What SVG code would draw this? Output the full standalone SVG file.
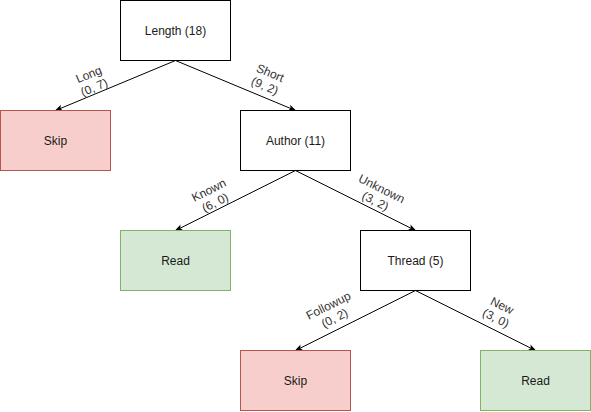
<svg xmlns="http://www.w3.org/2000/svg" width="591" height="412" viewBox="0 0 591 412">
<defs>
<style>
.n{stroke:#000;stroke-width:1;fill:#fff}
.red{fill:#f8cecc;stroke:#b85450}
.green{fill:#d5e8d4;stroke:#82b366}
.t{font-family:"Liberation Sans",Arial,sans-serif;font-size:12px;fill:#1a1a1a;text-anchor:middle}
.lb{font-family:"Liberation Sans",Arial,sans-serif;font-size:12px;fill:#333;text-anchor:middle}
.e{stroke:#000;stroke-width:1;fill:none;marker-end:url(#arr)}
</style>
<marker id="arr" viewBox="0 0 10 10" refX="9" refY="5" markerWidth="8" markerHeight="8" orient="auto" markerUnits="userSpaceOnUse">
<path d="M0,1 L10,5 L0,9 L2.5,5 z" fill="#000"/>
</marker>
</defs>
<rect width="591" height="412" fill="#fff"/>
<g id="connectors">
<line class="e" x1="175.5" y1="60.5" x2="55.5" y2="110.5"/>
<line class="e" x1="175.5" y1="60.5" x2="295.5" y2="110.5"/>
<line class="e" x1="295.5" y1="170.5" x2="175.5" y2="230.5"/>
<line class="e" x1="295.5" y1="170.5" x2="415.5" y2="230.5"/>
<line class="e" x1="415.5" y1="290.5" x2="295.5" y2="350.5"/>
<line class="e" x1="415.5" y1="290.5" x2="535.5" y2="350.5"/>
<g transform="translate(91.5,81) rotate(-22.6)"><text class="lb" y="-3">Long</text><text class="lb" y="11">(0, 7)</text></g>
<g transform="translate(267.5,79.5) rotate(22.6)"><text class="lb" y="-3">Short</text><text class="lb" y="11">(9, 2)</text></g>
<g transform="translate(212,196.5) rotate(-26.57)"><text class="lb" y="-3">Known</text><text class="lb" y="11">(6, 0)</text></g>
<g transform="translate(378.5,195) rotate(26.57)"><text class="lb" y="-3">Unknown</text><text class="lb" y="11">(3, 2)</text></g>
<g transform="translate(331.5,312) rotate(-26.57)"><text class="lb" y="-3">Followup</text><text class="lb" y="11">(0, 2)</text></g>
<g transform="translate(499,312) rotate(26.57)"><text class="lb" y="-3">New</text><text class="lb" y="11">(3, 0)</text></g>
</g>
<g id="length"><rect class="n" x="120.5" y="0.5" width="110" height="60"/><text class="t" x="175.5" y="35">Length (18)</text></g>
<g id="skip1"><rect class="n red" x="0.5" y="110.5" width="110" height="60"/><text class="t" x="55.5" y="145">Skip</text></g>
<g id="author"><rect class="n" x="240.5" y="110.5" width="110" height="60"/><text class="t" x="295.5" y="145">Author (11)</text></g>
<g id="read1"><rect class="n green" x="120.5" y="230.5" width="110" height="60"/><text class="t" x="175.5" y="265">Read</text></g>
<g id="thread"><rect class="n" x="360.5" y="230.5" width="110" height="60"/><text class="t" x="415.5" y="265">Thread (5)</text></g>
<g id="skip2"><rect class="n red" x="240.5" y="350.5" width="110" height="60"/><text class="t" x="295.5" y="385">Skip</text></g>
<g id="read2"><rect class="n green" x="480.5" y="350.5" width="110" height="60"/><text class="t" x="535.5" y="385">Read</text></g>
</svg>
